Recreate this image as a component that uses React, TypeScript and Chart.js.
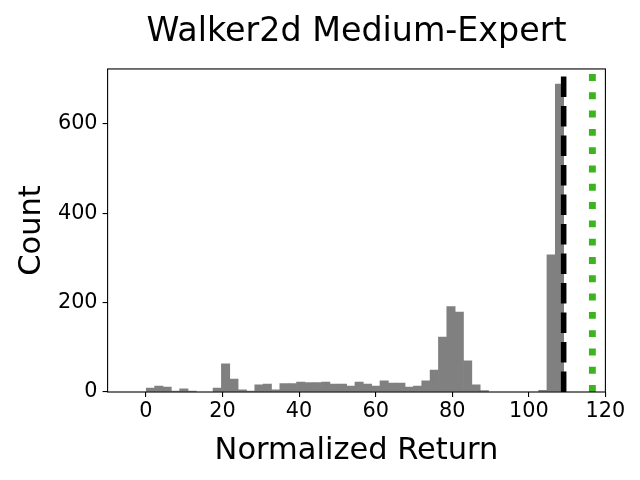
import React, { useEffect, useRef } from "react";
import { Chart, registerables } from "chart.js";

Chart.register(...registerables);

const chartTitle = "Walker2d Medium-Expert";
const xLabel = "Normalized Return";
const yLabel = "Count";

// histogram bins (50 bins of equal width)
const binStart = 0.1;
const binWidth = 2.18;
const counts = [
  9, 13, 11, 2, 7, 2, 0, 0,
  9, 63, 29, 5, 2, 16, 18, 5,
  19, 19, 22, 21, 21, 22, 18, 18,
  13, 22, 18, 13, 25, 20, 20, 11,
  13, 25, 49, 123, 191, 179, 70, 16,
  3, 0, 0, 0, 0, 0, 0, 4,
  307, 689,
];

const xTicks = [0, 20, 40, 60, 80, 100, 120];
const yTicks = [0, 200, 400, 600];
const xRange = [-10, 120];
const yRange = [0, 723];

const dashedLineX = 109.1; // black dashed reference
const dottedLineX = 116.6; // green dotted reference

const FONT = "'DejaVu Sans', sans-serif";
const BAR_COLOR = "#808080";
const GREEN = "rgb(60,180,30)";

const overlayPlugin = {
  id: "overlay",
  afterDatasetsDraw(chart: any) {
    const { ctx, chartArea: a, scales } = chart;
    const xs = scales.x;
    ctx.save();
    ctx.beginPath();
    ctx.rect(a.left, a.top, a.right - a.left, a.bottom - a.top);
    ctx.clip();
    const drawV = (v: number, color: string, w: number, dash: number[]) => {
      const px = xs.getPixelForValue(v);
      ctx.beginPath();
      ctx.setLineDash(dash);
      ctx.lineDashOffset = 0;
      ctx.strokeStyle = color;
      ctx.lineWidth = w;
      ctx.lineCap = "butt";
      ctx.moveTo(px, a.bottom);
      ctx.lineTo(px, a.top);
      ctx.stroke();
    };
    drawV(dashedLineX, "#000000", 5.56, [20.6, 8.9]);
    drawV(dottedLineX, GREEN, 6.9, [6.9, 11.4]);
    ctx.restore();

    ctx.save();
    ctx.setLineDash([]);
    ctx.strokeStyle = "#000000";
    ctx.lineWidth = 1.1;
    ctx.strokeRect(a.left, a.top, a.right - a.left, a.bottom - a.top);
    ctx.restore();
  },
};

export default function App() {
  const canvasRef = useRef<HTMLCanvasElement | null>(null);

  useEffect(() => {
    const canvas = canvasRef.current;
    if (!canvas) return;
    const data = counts.map((c, i) => ({
      x: binStart + (i + 0.5) * binWidth,
      y: c === 0 ? null : c,
    }));
    const chart = new Chart(canvas, {
      type: "bar",
      data: {
        datasets: [
          {
            data: data as any,
            backgroundColor: BAR_COLOR,
            borderWidth: 0,
            barPercentage: 1,
            categoryPercentage: 1,
            grouped: false,
          } as any,
        ],
      },
      options: {
        animation: false,
        responsive: false,
        layout: { padding: { left: 0, right: 34.6, top: 0, bottom: 0 } },
        plugins: {
          legend: { display: false },
          tooltip: { enabled: false },
          title: {
            display: true,
            text: chartTitle,
            fullSize: false,
            color: "#000000",
            font: { family: FONT, size: 33.3, weight: "normal" as any },
            padding: { top: 12.7, bottom: 16.3 },
          },
        },
        scales: {
          x: {
            type: "linear",
            min: xRange[0],
            max: xRange[1],
            offset: false,
            grid: {
              offset: false,
              display: true,
              drawOnChartArea: false,
              drawTicks: true,
              tickLength: 5,
              color: "#000000",
              lineWidth: 1.1,
            },
            border: { display: false },
            ticks: {
              color: "#000000",
              font: { family: FONT, size: 20.8 },
              padding: 2,
              autoSkip: false,
              maxRotation: 0,
            },
            title: {
              display: true,
              text: xLabel,
              color: "#000000",
              font: { family: FONT, size: 30.5 },
              padding: { top: 0, bottom: 10.3 },
            },
            afterBuildTicks: (s: any) => {
              s.ticks = xTicks.map((v) => ({ value: v }));
            },
            afterFit: (s: any) => {
              s.height = 88;
            },
          } as any,
          y: {
            type: "linear",
            min: yRange[0],
            max: yRange[1],
            grid: {
              display: true,
              drawOnChartArea: false,
              drawTicks: true,
              tickLength: 5,
              color: "#000000",
              lineWidth: 1.1,
            },
            border: { display: false },
            ticks: {
              color: "#000000",
              font: { family: FONT, size: 20.8 },
              padding: 5,
              autoSkip: false,
            },
            title: {
              display: true,
              text: yLabel,
              color: "#000000",
              font: { family: FONT, size: 30.5 },
              padding: { top: 13.6, bottom: 0 },
            },
            afterBuildTicks: (s: any) => {
              s.ticks = yTicks.map((v) => ({ value: v }));
            },
            afterFit: (s: any) => {
              s.width = 107.6;
            },
          } as any,
        },
      },
      plugins: [overlayPlugin],
    });
    return () => chart.destroy();
  }, []);

  return (
    <div style={{ position: "fixed", left: 0, top: 0, width: 640, height: 480, background: "#ffffff" }}>
      <canvas ref={canvasRef} width={640} height={480} />
    </div>
  );
}
